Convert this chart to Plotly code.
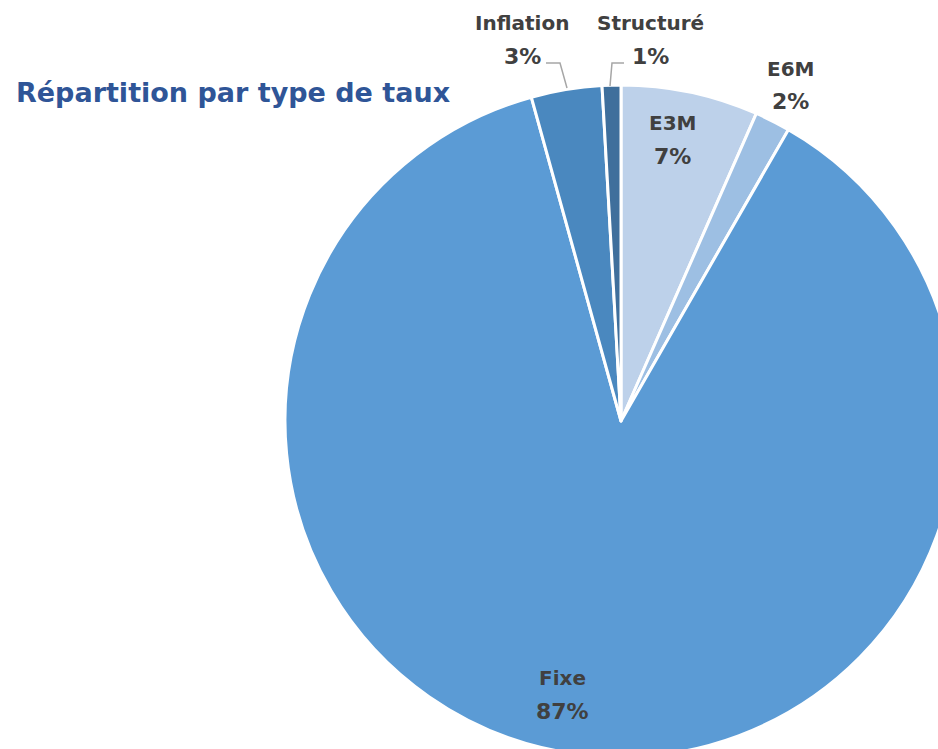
import plotly.graph_objects as go

# data
categories = ["E3M", "E6M", "Fixe", "Inflation", "Structuré"]
values = [6.6, 1.7, 87.4, 3.4, 0.9]
colors = ["#BDD1EA", "#9DBFE3", "#5B9BD5", "#4A88BF", "#3F6F9C"]
title = "Répartition par type de taux"

W, H = 1000, 800


def px(x, y):
    # pixel position on page -> paper coords
    return x / W, 1 - y / H


# pie centre (621, 421), radius 336 px
cx, cy, r = 621, 421, 336
dom_x = [(cx - r) / W, (cx + r) / W]
dom_y = [(H - cy - r) / H, (H - cy + r) / H]

fig = go.Figure()
fig.add_trace(go.Pie(
    labels=categories,
    values=values,
    sort=False,
    direction="clockwise",
    rotation=0,
    textinfo="none",
    hoverinfo="label+percent",
    marker=dict(colors=colors, line=dict(color="white", width=3)),
    domain=dict(x=dom_x, y=dom_y),
    showlegend=False,
))

# label positions (page pixels: x centre, y of name row); percent row 33px lower
label_pos = [(672, 123), (790, 69), (562, 678), (522, 23), (650, 23)]
total = sum(values)
for cat, v, (lx, ly) in zip(categories, values, label_pos):
    for txt, yy, sz in ((cat, ly, 20), (f"{round(v / total * 100)}%", ly + 33, 22)):
        ax, ay = px(lx, yy)
        fig.add_annotation(
            x=ax, y=ay, xref="paper", yref="paper",
            text=f"<b>{txt}</b>",
            showarrow=False, xanchor="center", yanchor="middle",
            font=dict(family="DejaVu Sans", size=sz, color="#404040"),
        )

# leader lines for the small outside labels
for pts in ([(546, 63), (560, 63), (567, 88)], [(624, 63), (612, 63), (610, 86)]):
    path = "M" + " L".join(f"{px(*p)[0]},{px(*p)[1]}" for p in pts)
    fig.add_shape(type="path", path=path, xref="paper", yref="paper",
                  line=dict(color="#A6A6A6", width=1.5))

tx, ty = px(14, 92)
fig.add_annotation(
    x=tx, y=ty, xref="paper", yref="paper", text=f"<b>{title}</b>",
    showarrow=False, xanchor="left", yanchor="middle",
    font=dict(family="DejaVu Sans", size=27, color="#2F5597"),
)

fig.update_layout(
    width=W, height=H,
    margin=dict(l=0, r=0, t=0, b=0),
    paper_bgcolor="white",
    plot_bgcolor="white",
)

fig.write_html(
    "out.html",
    post_script="document.body.style.margin='0';document.body.style.overflow='hidden';",
)
